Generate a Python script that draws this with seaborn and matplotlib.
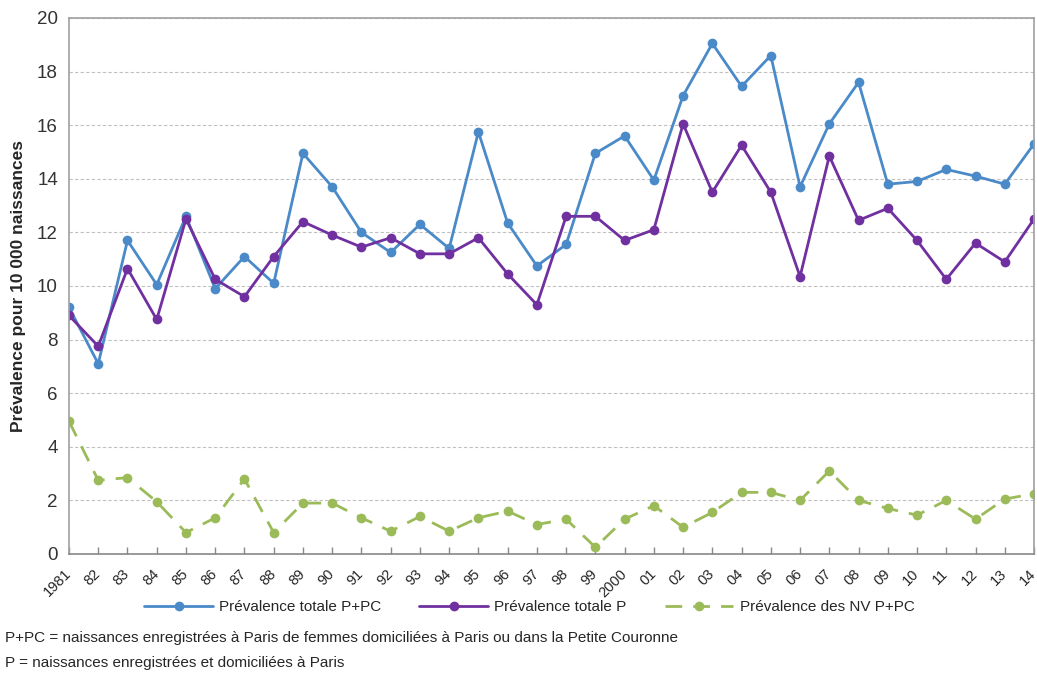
import numpy as np
import pandas as pd
import matplotlib
matplotlib.use('Agg')
import matplotlib.pyplot as plt
import matplotlib.transforms as mtransforms
import seaborn as sns

# Data
years = ['1981', '82', '83', '84', '85', '86', '87', '88', '89', '90', '91', '92',
         '93', '94', '95', '96', '97', '98', '99', '2000', '01', '02', '03', '04',
         '05', '06', '07', '08', '09', '10', '11', '12', '13', '14']
total_ppc = [9.2, 7.1, 11.7, 10.05, 12.6, 9.9, 11.1, 10.1, 14.95, 13.7, 12.0, 11.25,
             12.3, 11.4, 15.75, 12.35, 10.75, 11.55, 14.95, 15.6, 13.95, 17.1, 19.05, 17.45,
             18.6, 13.7, 16.05, 17.6, 13.8, 13.9, 14.35, 14.1, 13.8, 15.3]
total_p = [8.9, 7.75, 10.65, 8.75, 12.5, 10.25, 9.6, 11.1, 12.4, 11.9, 11.45, 11.8,
           11.2, 11.2, 11.8, 10.45, 9.3, 12.6, 12.6, 11.7, 12.1, 16.05, 13.5, 15.25,
           13.5, 10.35, 14.85, 12.45, 12.9, 11.7, 10.25, 11.6, 10.9, 12.5]
nv_ppc = [4.95, 2.75, 2.85, 1.95, 0.8, 1.35, 2.8, 0.8, 1.9, 1.9, 1.35, 0.85,
          1.4, 0.85, 1.35, 1.6, 1.1, 1.3, 0.25, 1.3, 1.8, 1.0, 1.55, 2.3,
          2.3, 2.0, 3.1, 2.0, 1.7, 1.45, 2.0, 1.3, 2.05, 2.25]

series_names = ['Prévalence totale P+PC', 'Prévalence totale P', 'Prévalence des NV P+PC']
colors = ['#4a8ac8', '#7030a0', '#9bbb59']

sns.set_theme(style='white')
plt.rcParams['font.family'] = ['Liberation Sans', 'DejaVu Sans']

idx = np.arange(len(years))
df = pd.DataFrame({
    'idx': np.tile(idx, 3),
    'value': total_ppc + total_p + nv_ppc,
    'serie': np.repeat(series_names, len(years)),
})

fig = plt.figure(figsize=(10.37, 6.76), dpi=100)
ax = fig.add_axes([69 / 1037, 1 - 554 / 676, (1034 - 69) / 1037, (554 - 18) / 676])

for name, col in zip(series_names, colors):
    d = df[df['serie'] == name]
    dashed = name.startswith('Prévalence des NV')
    sns.lineplot(data=d, x='idx', y='value', ax=ax, color=col, marker='o',
                 markersize=7, markeredgewidth=0, linewidth=2,
                 linestyle=(0, (6, 4)) if dashed else '-', label=name)

ax.set_xlim(0, len(years) - 1)
ax.set_ylim(0, 20)
ax.set_yticks(range(0, 21, 2))
ax.set_yticklabels([str(v) for v in range(0, 21, 2)], fontsize=13.5, color='#333333')
ax.set_xticks(idx)
ax.set_xticklabels(years, rotation=45, ha='right', rotation_mode='anchor', fontsize=10.5)
ax.tick_params(axis='x', length=5, width=1, color='#888888', direction='in', bottom=True, pad=9)
ax.tick_params(axis='y', length=0, pad=8)
ax.grid(axis='y', color='#c0c0c0', linestyle=(0, (3, 2)), linewidth=0.8)
for s in ax.spines.values():
    s.set_color('#a0a0a0')
    s.set_linewidth(1.2)
ax.spines['bottom'].set_color('#888888')

ax.set_xlabel('')
ax.set_ylabel('Prévalence pour 10 000 naissances', fontsize=12.5, fontweight='bold')
ax.yaxis.set_label_coords(-0.045, 0.5)

ax.legend(loc='center', bbox_to_anchor=(0.477, -0.099), ncol=3, frameon=False,
          fontsize=11, handlelength=4.5, columnspacing=2.5, handletextpad=0.4)

fig.text(5 / 1037, 1 - 638 / 676, 'P+PC = naissances enregistrées à Paris de femmes domiciliées à Paris ou dans la Petite Couronne',
         fontsize=11, va='center', ha='left')
fig.text(5 / 1037, 1 - 663 / 676, 'P = naissances enregistrées et domiciliées à Paris',
         fontsize=11, va='center', ha='left')

# nudge the rotated labels a few pixels left so the last one stays in the figure
fig.canvas.draw()
shift = mtransforms.ScaledTranslation(-5 / 100, 0, fig.dpi_scale_trans)
for lbl in ax.xaxis.get_majorticklabels():
    lbl.set_transform(lbl.get_transform() + shift)

fig.savefig('out.png', dpi=100)
